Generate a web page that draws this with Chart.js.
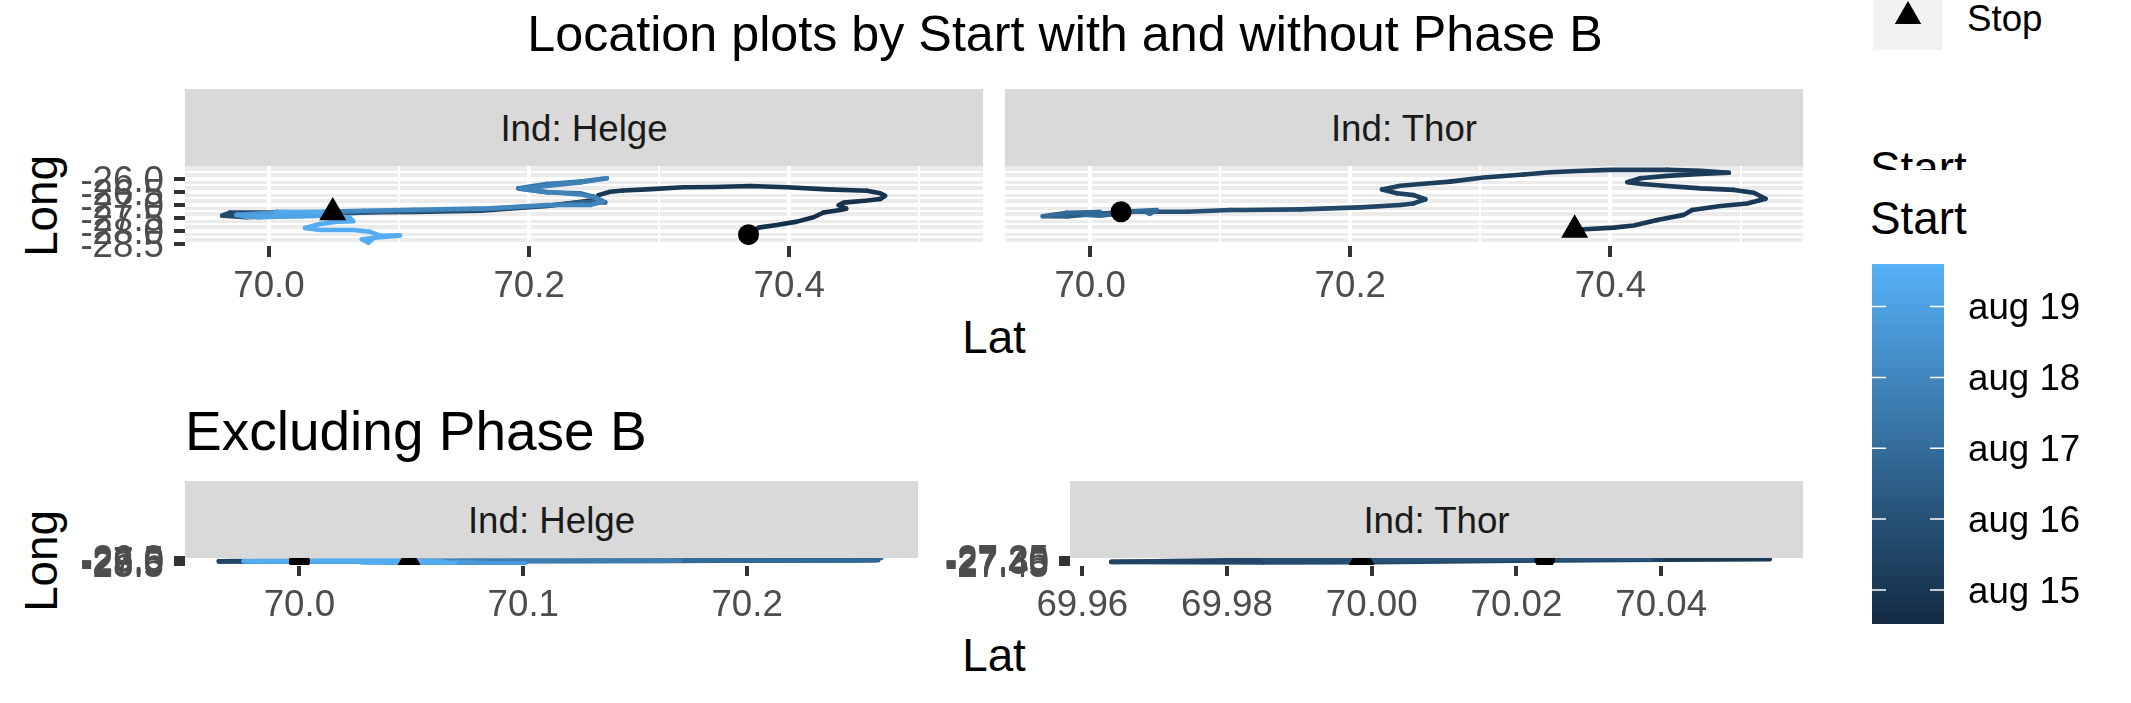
<!DOCTYPE html>
<html><head><meta charset="utf-8">
<script src="https://cdn.jsdelivr.net/npm/chart.js@4"></script>
<style>
html,body{margin:0;padding:0;background:#fff;}
#page{position:relative;width:2131px;height:703px;overflow:hidden;font-family:"Liberation Sans",Arial,sans-serif;}
canvas{position:absolute;display:block;}
.t{position:absolute;line-height:1;white-space:nowrap;color:#000;}
.strip{position:absolute;background:#D9D9D9;color:#1A1A1A;font-size:36.7px;display:flex;align-items:center;justify-content:center;z-index:5;box-sizing:border-box;padding-top:3px;}
</style></head><body><div id="page">
<div class="t" style="left:365px;width:1400px;text-align:center;top:9.4px;font-size:50.25px;">Location plots by Start with and without Phase B</div>
<div class="t" style="left:794px;width:400px;text-align:center;top:315px;font-size:45.8px;">Lat</div>
<div class="t" style="left:794px;width:400px;text-align:center;top:633px;font-size:45.8px;">Lat</div>
<div class="t" style="left:185px;top:404px;font-size:55px;">Excluding Phase B</div>
<div class="t" style="left:-58.5px;width:200px;text-align:center;top:183px;font-size:45.8px;transform:rotate(-90deg);">Long</div>
<div class="t" style="left:-58.5px;width:200px;text-align:center;top:538px;font-size:45.8px;transform:rotate(-90deg);">Long</div>
<div class="strip" style="left:185px;top:89px;width:798px;height:77px;">Ind: Helge</div>
<div class="strip" style="left:1005px;top:89px;width:798px;height:77px;">Ind: Thor</div>
<div class="strip" style="left:185px;top:481px;width:733px;height:77px;">Ind: Helge</div>
<div class="strip" style="left:1070px;top:481px;width:733px;height:77px;">Ind: Thor</div>
<div style="position:absolute;left:1873px;top:0;width:69px;height:50px;background:#F2F2F2;"></div>
<div style="position:absolute;left:1894.5px;top:1px;width:27px;height:23.4px;background:#000;clip-path:polygon(50% 0,100% 100%,0 100%);"></div>
<div class="t" style="left:1967px;top:0.5px;font-size:36.7px;">Stop</div>
<div style="position:absolute;left:1860px;top:140px;width:200px;height:30px;overflow:hidden;"><div class="t" style="left:10px;top:6.2px;font-size:45.8px;">Start</div></div>
<div class="t" style="left:1870px;top:196.2px;font-size:45.8px;">Start</div>
<canvas id="p1"></canvas><canvas id="p2"></canvas><canvas id="p3"></canvas><canvas id="p4"></canvas><canvas id="bar"></canvas>
</div>
<script>
// ---------- data ----------
const helgeLat=[70.3687,70.3764,70.3905,70.4059,70.4187,70.4264,70.4392,70.4438,70.4379,70.4418,70.4598,70.47,70.4738,70.47,70.4598,70.429,70.3982,70.37,70.3418,70.3187,70.2905,70.2725,70.2623,70.2533,70.2508,
70.2136,70.1623,70.111,70.0598,70.0085,69.97,69.964,
69.9828,70.0341,70.0854,70.1623,70.2136,70.2392,70.2585,70.2495,70.2392,70.2136,70.1918,70.2136,70.2392,70.2598,
70.2392,70.1931,70.211,70.2392,70.2521,70.2572,70.2469,70.2136,70.17,70.111,70.0725,70.0418,70.0085,69.9751,69.9828,70.0418,69.9912,70.0418,70.0085,70.0059,70.0418,70.0623,70.0648,70.0521,70.0392,70.0277,70.0392,70.0648,70.0777,70.0854,70.1008,70.0854,70.0713,70.0764,70.0802];
const helgeLong=[-28.14,-27.87,-27.77,-27.64,-27.47,-27.29,-27.19,-27.14,-27.01,-26.91,-26.83,-26.77,-26.65,-26.55,-26.45,-26.40,-26.32,-26.27,-26.31,-26.32,-26.40,-26.44,-26.49,-26.62,-26.81,
-27.04,-27.22,-27.27,-27.29,-27.29,-27.29,-27.41,
-27.47,-27.38,-27.26,-27.17,-27.03,-26.91,-26.90,-26.68,-26.55,-26.51,-26.36,-26.19,-26.10,-25.97,
-26.13,-26.37,-26.49,-26.59,-26.74,-26.87,-27.00,-27.00,-27.13,-27.18,-27.22,-27.26,-27.29,-27.38,-27.45,-27.41,-27.47,-27.34,-27.35,-27.26,-27.28,-27.51,-27.62,-27.64,-27.73,-27.88,-27.96,-27.96,-28.03,-28.18,-28.17,-28.24,-28.32,-28.45,-28.28];
const helgeStart=[14.7,14.7,14.7,14.7,14.7,14.75,14.75,14.8,14.8,14.8,14.8,14.85,14.85,14.85,14.9,14.9,14.9,14.9,14.95,14.95,14.95,15.0,15.0,15.0,15.05,
15.2,15.3,15.4,15.5,15.6,15.7,15.8,
16.2,16.3,16.4,16.5,16.6,16.7,16.8,16.9,17.0,17.2,17.3,17.5,17.6,17.75,
17.8,17.8,17.85,17.85,17.9,17.9,17.95,18.0,18.0,18.05,18.1,18.5,18.8,18.9,19.0,19.05,19.1,19.1,19.1,19.3,19.35,19.4,19.4,19.4,19.4,19.45,19.45,19.45,19.5,19.5,19.5,19.5,19.5,19.5,19.5];
const helgeCircle=[70.3687,-28.14];
const helgeTriangle=[70.049,-27.29];

const thorLat=[70.3769,70.4026,70.4179,70.4359,70.4564,70.4628,70.4846,70.5051,70.5192,70.5103,70.4949,70.4692,70.4436,70.4244,70.4128,70.4231,70.4436,70.4692,70.491,70.4692,70.4436,70.4,70.3744,70.3538,70.3333,70.3026,70.2769,70.2538,70.2385,
70.2244,70.2359,70.2487,70.2577,70.2487,70.2385,70.2077,70.1615,70.1179,70.1077,70.0744,70.0513,70.0333,70.0077,69.9821,69.9636,69.9821,70.0077,69.995,70.0077,70.041,70.046,70.0513,70.0238];
const thorLong=[-27.94,-27.87,-27.79,-27.58,-27.38,-27.19,-27.04,-26.94,-26.76,-26.53,-26.42,-26.36,-26.27,-26.19,-26.12,-25.97,-25.88,-25.81,-25.76,-25.68,-25.65,-25.65,-25.69,-25.74,-25.83,-25.94,-26.10,-26.19,-26.26,
-26.40,-26.55,-26.62,-26.78,-26.94,-27.00,-27.09,-27.17,-27.19,-27.19,-27.26,-27.26,-27.26,-27.33,-27.44,-27.43,-27.30,-27.27,-27.37,-27.41,-27.22,-27.34,-27.19,-27.26];
const thorStart=[15.0,15.0,15.0,15.02,15.02,15.05,15.05,15.05,15.08,15.08,15.1,15.1,15.1,15.12,15.12,15.15,15.15,15.15,15.18,15.18,15.2,15.2,15.2,15.22,15.25,15.25,15.28,15.3,15.3,
15.35,15.38,15.4,15.42,15.45,15.5,15.6,15.7,15.8,15.9,16.0,16.1,16.2,16.4,16.7,17.0,16.9,16.9,16.9,16.9,16.9,16.9,16.9,16.9];
const thorCircle=[70.0238,-27.26];
const thorTriangle=[70.3725,-27.96];

// "Excluding Phase B": Helge path from this index on, own colours
const helgeBFrom=23;
const helgeBStart=[15.0,15.05,15.1,15.2,15.3,15.3,15.4,15.4,15.5,
16.0,16.2,16.3,16.4,16.5,16.6,16.6,16.6,16.6,16.6,16.6,16.7,16.7,16.8,
16.8,16.8,16.8,16.8,16.85,16.85,16.9,16.9,17.6,17.7,18.0,18.8,19.3,
19.4,19.4,19.4,19.4,19.4,19.4,19.4,19.4,19.4,19.4,19.4,19.4,19.4,19.4,19.4,
18.7,18.7,18.7,18.7,18.7,18.7,18.7];
const helgeBCircle=[70.0,-27.4];
const helgeBTriangle=[70.049,-27.1];

const thorBLat=[70.055,70.04,70.02,70.0,69.985,69.964,69.985,70.0,70.02,70.0385];
const thorBLong=[-27.29,-27.31,-27.34,-27.39,-27.40,-27.38,-27.31,-27.33,-27.29,-27.29];
const thorBStart=[15.0,15.4,15.6,15.8,15.7,15.5,15.8,16.0,16.0,16.0];
const thorBCircle=[70.0239,-27.26];
const thorBTriangle=[69.9986,-27.257];

const latMajorTop=[70.0,70.2,70.4], latMajorTopLabels=["70.0","70.2","70.4"], latMinorTop=[70.1,70.3,70.5];
const longMajorTop=[-28.5,-28.0,-27.5,-27.0,-26.5,-26.0], longMajorTopLabels=["-28.5","-28.0","-27.5","-27.0","-26.5","-26.0"];
const longMinorTop=[-28.25,-27.75,-27.25,-26.75,-26.25,-25.75];
const latMajorHelgeB=[70.0,70.1,70.2], latMajorHelgeBLabels=["70.0","70.1","70.2"], latMinorHelgeB=[70.05,70.15,70.25];
const latMajorThorB=[69.96,69.98,70.0,70.02,70.04], latMajorThorBLabels=["69.96","69.98","70.00","70.02","70.04"], latMinorThorB=[69.97,69.99,70.01,70.03,70.05];
const longMajorThorB=[-27.45,-27.40,-27.35,-27.30,-27.25], longMajorThorBLabels=["-27.45","-27.40","-27.35","-27.30","-27.25"];
const longMinorThorB=[-27.425,-27.375,-27.325,-27.275];
const legendDays=[15,16,17,18,19], legendLabels=["aug 15","aug 16","aug 17","aug 18","aug 19"];
const legendMin=14.52, legendMax=19.6;

// ---------- drawing ----------
const FONT='"Liberation Sans"';
const LOW=[0x13,0x2B,0x43], HIGH=[0x56,0xB1,0xF7];
function ramp(c){const t=Math.max(0,Math.min(1,(c-legendMin)/(legendMax-legendMin)));
  return 'rgb('+LOW.map((v,i)=>Math.round(v+(HIGH[i]-v)*t)).join(',')+')';}
const panelBg={id:'panelBg',beforeDraw(ch){const a=ch.chartArea;ch.ctx.save();ch.ctx.fillStyle='#EBEBEB';ch.ctx.fillRect(a.left,a.top,a.right-a.left,a.bottom-a.top);ch.ctx.restore();}};
const nudgeY={id:'nudgeY',beforeDraw(ch){ch.scales.y.getLabelItems().forEach(it=>{it.options.translation[1]+=2.5;});}};
function axis(major,labels,minor,min,max,pos,fit,opts){
  const isMajor=v=>major.indexOf(v)>=0;
  return {type:'linear',position:pos,min,max,
    afterBuildTicks(s){s.ticks=major.concat(minor).sort((a,b)=>a-b).map(v=>({value:v}));},
    afterFit(s){if(pos==='left')s.width=fit;else s.height=fit;s.paddingLeft=s.paddingRight=s.paddingTop=s.paddingBottom=0;},
    border:{display:false},
    grid:{color:'#FFFFFF',drawTicks:opts.ticks,tickLength:11,
      lineWidth:c=>isMajor(c.tick.value)?4:2,
      tickWidth:4,tickColor:c=>isMajor(c.tick.value)?'#333333':'rgba(0,0,0,0)'},
    ticks:{display:opts.ticks,autoSkip:false,maxRotation:0,minRotation:0,padding:opts.pad,color:'#4D4D4D',
      font:{family:FONT,size:36.7},
      callback:v=>{const i=major.indexOf(v);return i>=0?labels[i]:'';}}};
}
function panel(id,box,area,d){
  const cv=document.getElementById(id);
  cv.width=box.w;cv.height=box.h;cv.style.left=box.x+'px';cv.style.top=box.y+'px';
  const pts=d.lat.map((x,i)=>({x,y:d.long[i]}));
  new Chart(cv,{type:'scatter',plugins:[panelBg,nudgeY],data:{datasets:[
    {data:[{x:d.circle[0],y:d.circle[1]}],pointStyle:'circle',pointRadius:10.5,backgroundColor:'#000',borderWidth:0,pointBorderWidth:0,showLine:false,clip:0},
    {data:[{x:d.tri[0],y:d.tri[1]}],pointStyle:'triangle',pointRadius:15.6,backgroundColor:'#000',borderWidth:0,pointBorderWidth:0,showLine:false,clip:0},
    {data:pts,showLine:true,pointRadius:0,borderWidth:4.6,borderCapStyle:'round',borderJoinStyle:'round',tension:0,clip:0,borderColor:ramp(d.start[0]),
      segment:{borderColor:c=>ramp(d.start[c.p0DataIndex])}}
  ]},options:{responsive:false,animation:false,devicePixelRatio:1,
    layout:{padding:{left:0,top:area.y0-box.y,right:box.x+box.w-area.x1,bottom:0}},
    plugins:{legend:{display:false},tooltip:{enabled:false}},
    events:[],
    scales:{
      x:axis(d.xMajor,d.xLabels,d.xMinor,d.xMin,d.xMax,'bottom',box.y+box.h-area.y1,{ticks:true,pad:8}),
      y:axis(d.yMajor,d.yLabels,d.yMinor,d.yMin,d.yMax,'left',area.x0-box.x,{ticks:d.showY,pad:10})
    }}});
}
const topX={xMajor:latMajorTop,xLabels:latMajorTopLabels,xMinor:latMinorTop};
const topY={yMajor:longMajorTop,yLabels:longMajorTopLabels,yMinor:longMinorTop,yMin:-28.577,yMax:-25.5};
panel('p1',{x:60,y:100,w:940,h:210},{x0:185,x1:983,y0:166,y1:246},
  {lat:helgeLat,long:helgeLong,start:helgeStart,circle:helgeCircle,tri:helgeTriangle,xMin:69.9354,xMax:70.549,showY:true,...topX,...topY});
panel('p2',{x:945,y:100,w:875,h:210},{x0:1005,x1:1803,y0:166,y1:246},
  {lat:thorLat,long:thorLong,start:thorStart,circle:thorCircle,tri:thorTriangle,xMin:69.9346,xMax:70.548,showY:false,...topX,...topY});
panel('p3',{x:60,y:500,w:870,h:150},{x0:185,x1:918,y0:558,y1:565},
  {lat:helgeLat.slice(helgeBFrom),long:helgeLong.slice(helgeBFrom),start:helgeBStart,circle:helgeBCircle,tri:helgeBTriangle,
   xMin:69.9489,xMax:70.2747,showY:true,xMajor:latMajorHelgeB,xLabels:latMajorHelgeBLabels,xMinor:latMinorHelgeB,
   yMajor:longMajorTop,yLabels:longMajorTopLabels,yMinor:longMinorTop.filter(v=>v<-26),yMin:-28.92,yMax:-26});
panel('p4',{x:930,y:500,w:890,h:150},{x0:1070,x1:1803,y0:558,y1:565},
  {lat:thorBLat,long:thorBLong,start:thorBStart,circle:thorBCircle,tri:thorBTriangle,
   xMin:69.9583,xMax:70.0596,showY:true,xMajor:latMajorThorB,xLabels:latMajorThorBLabels,xMinor:latMinorThorB,
   yMajor:longMajorThorB,yLabels:longMajorThorBLabels,yMinor:longMinorThorB,yMin:-27.483,yMax:-27.25});

// colour bar
const cb=document.getElementById('bar');
cb.width=271;cb.height=400;cb.style.left='1860px';cb.style.top='240px';
const barTicks={id:'barTicks',afterDatasetsDraw(ch){const y=ch.scales.y,a=ch.chartArea,c=ch.ctx;c.save();c.strokeStyle='#fff';c.lineWidth=1.5;
  legendDays.forEach(v=>{const p=y.getPixelForValue(v);c.beginPath();c.moveTo(a.left,p);c.lineTo(a.left+14,p);c.moveTo(a.right-14,p);c.lineTo(a.right,p);c.stroke();});c.restore();}};
new Chart(cb,{type:'bar',plugins:[barTicks,nudgeY],data:{labels:['Start'],datasets:[{data:[[legendMin,legendMax]],barPercentage:1,categoryPercentage:1,borderWidth:0,
  backgroundColor:c=>{const a=c.chart.chartArea;if(!a)return ramp(17);const g=c.chart.ctx.createLinearGradient(0,a.bottom,0,a.top);
    g.addColorStop(0,ramp(legendMin));g.addColorStop(1,ramp(legendMax));return g;}}]},
  options:{responsive:false,animation:false,devicePixelRatio:1,events:[],
    layout:{padding:{left:12,top:24,right:0,bottom:16}},
    plugins:{legend:{display:false},tooltip:{enabled:false}},
    scales:{x:{display:false},
      y:{type:'linear',position:'right',min:legendMin,max:legendMax,
        afterBuildTicks(s){s.ticks=legendDays.map(v=>({value:v}));},
        afterFit(s){s.width=187;s.paddingTop=s.paddingBottom=0;},
        border:{display:false},grid:{display:false,drawTicks:false},
        ticks:{autoSkip:false,padding:24,color:'#000',font:{family:FONT,size:36.7},
          callback:v=>{const i=legendDays.indexOf(v);return i>=0?legendLabels[i]:'';}}}}}});
</script></body></html>
